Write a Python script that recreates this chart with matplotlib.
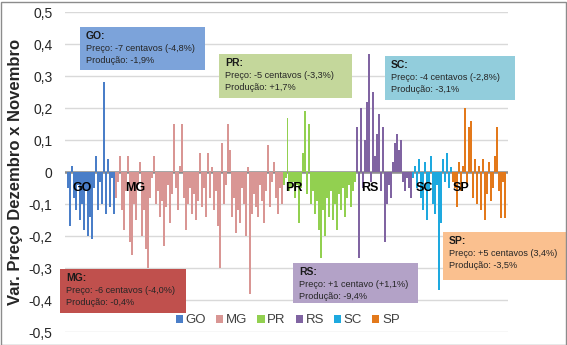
import matplotlib
matplotlib.use("Agg")
import matplotlib.pyplot as plt
from matplotlib.patches import Rectangle, Patch
import numpy as np

plt.rcParams['font.family'] = ['Liberation Sans', 'DejaVu Sans']

states = ["GO", "MG", "PR", "RS", "SC", "SP"]
colors = ["#4A7EC8", "#D99694", "#92D050", "#8064A2", "#1EA9DF", "#E3791B"]

go = [-0.05, -0.17, 0.02, -0.08, -0.12, -0.04, -0.15, -0.10, -0.18, -0.06, -0.20, -0.14,
      -0.21, -0.05, 0.05, -0.12, -0.03, -0.10, 0.28, -0.13, 0.04, -0.11, -0.02, -0.13]
mg = [-0.08, -0.03, 0.05, -0.12, -0.18, -0.06, 0.05, -0.22, -0.26, -0.10, -0.15, -0.04,
      0.03, -0.20, -0.12, -0.24, -0.30, -0.08, -0.02, 0.05, -0.10, -0.06, -0.14, -0.09,
      -0.23, -0.11, -0.04, -0.16, -0.07, 0.15, -0.05, -0.12, 0.02, 0.15, -0.08, -0.18,
      -0.10, -0.05, -0.13, -0.07, -0.15, -0.09, 0.06, -0.11, -0.05, -0.14, 0.06, -0.08,
      0.015, -0.12, -0.06, -0.17, -0.30, 0.09, -0.10, -0.04, 0.15, 0.07, -0.14, -0.08,
      -0.19, -0.12, -0.16, -0.05, -0.10, -0.20, 0.015, -0.38, -0.13, -0.07, -0.11, -0.14,
      -0.04, -0.09, -0.16, -0.06, 0.085, -0.11, -0.03, 0.03, -0.08, -0.13, -0.05, -0.10]
pr = [-0.04, -0.02, 0.17, -0.06, -0.05, -0.03, -0.08, -0.04, -0.16, -0.05, 0.06, 0.19,
      -0.07, 0.15, -0.10, -0.06, -0.13, -0.09, -0.18, -0.27, -0.12, -0.20, -0.08, -0.14,
      -0.06, -0.15, -0.10, -0.18, -0.07, -0.12, -0.05, -0.14, -0.08, -0.04, -0.11, -0.06,
      -0.03]
rs = [0.14, -0.27, 0.20, -0.05, 0.10, 0.22, 0.37, -0.03, 0.25, 0.05, 0.12, 0.18,
      -0.06, 0.14, -0.22, -0.10, -0.04, -0.08, 0.03, 0.09, 0.12, 0.07, 0.10, -0.03,
      -0.06, -0.02, -0.05, -0.08]
sc = [-0.02, 0.02, -0.05, 0.04, -0.08, -0.12, 0.03, -0.15, -0.06, 0.05, -0.10, -0.13,
      -0.04, -0.37, -0.16, 0.04, -0.03, 0.06, -0.05, 0.015]
sp = [-0.03, -0.05, -0.11, 0.03, -0.06, 0.02, 0.20, -0.04, 0.14, 0.16, -0.08, 0.04,
      -0.10, 0.02, -0.12, 0.04, -0.15, -0.07, 0.03, -0.09, -0.05, 0.05, 0.14, -0.06,
      -0.145, -0.03, -0.145]
series = [go, mg, pr, rs, sc, sp]

yticks = [0.5, 0.4, 0.3, 0.2, 0.1, 0, -0.1, -0.2, -0.3, -0.4, -0.5]
ytick_labels = ["0,5", "0,4", "0,3", "0,2", "0,1", "0", "-0,1", "-0,2", "-0,3", "-0,4", "-0,5"]

notes = {
    "GO": ["GO:", "Preço: -7 centavos (-4,8%)", "Produção: -1,9%"],
    "PR": ["PR:", "Preço: -5 centavos (-3,3%)", "Produção: +1,7%"],
    "SC": ["SC:", "Preço: -4 centavos (-2,8%)", "Produção: -3,1%"],
    "MG": ["MG:", "Preço: -6 centavos (-4,0%)", "Produção: -0,4%"],
    "RS": ["RS:", "Preço: +1 centavo (+1,1%)", "Produção: -9,4%"],
    "SP": ["SP:", "Preço: +5 centavos (3,4%)", "Produção: -3,5%"],
}

W, H = 567, 345
fig = plt.figure(figsize=(W / 100, H / 100), dpi=100)
ax = fig.add_axes([65 / W, 1 - 332 / H, (508 - 65) / W, 320 / H])

start = 0
for name, vals, col in zip(states, series, colors):
    x = np.arange(start, start + len(vals))
    ax.bar(x, vals, width=1.0, color=col, linewidth=0, zorder=2)
    start += len(vals)

ax.set_xlim(-1.5, start + 0.5)
ax.set_ylim(-0.5, 0.5)
ax.set_yticks(yticks)
ax.set_yticklabels(ytick_labels, fontsize=10, color="#262626")
ax.tick_params(axis="y", length=0, pad=9)
ax.set_xticks([])
for s in ax.spines.values():
    s.set_visible(False)
ax.grid(axis="y", color="#D9D9D9", linewidth=1.0, zorder=0)
ax.set_axisbelow(True)
ax.axhline(0, color="#8C8C8C", linewidth=1.8, zorder=1.5)

ax.set_ylabel("Var. Preço Dezembro x Novembro", fontsize=12, fontweight="bold",
              color="#262626", labelpad=4)

# region labels
label_x = [7.25, 33.75, 113.25, 151, 178.5, 196.75]
for name, lx in zip(states, label_x):
    ax.text(lx, -0.05, name, ha="center", va="center", fontsize=9,
            fontweight="bold", color="black", zorder=5)

# legend
handles = [Patch(facecolor=c, edgecolor="none", label=n) for n, c in zip(states, colors)]
ax.legend(handles=handles, loc="center", bbox_to_anchor=(0.503, 0.036), ncol=6,
          frameon=False, fontsize=9.5, handlelength=0.55, handleheight=0.55,
          handletextpad=0.2, columnspacing=0.75, labelcolor="#404040")

# annotation boxes (pixel geometry)
boxes = {
    "GO": (80, 27, 205, 70, "#7CA3DA"),
    "PR": (219, 54, 352, 98, "#C4D79B"),
    "SC": (385, 56, 515, 100, "#92CDDC"),
    "MG": (60, 269, 186, 313, "#C0504D"),
    "RS": (293, 263, 418, 303, "#B3A2C7"),
    "SP": (443, 232, 567, 280, "#FAC08F"),
}
for key, (x0, y0, x1, y1, fc) in boxes.items():
    fig.patches.append(Rectangle((x0 / W, 1 - y1 / H), (x1 - x0) / W, (y1 - y0) / H,
                                 transform=fig.transFigure, facecolor=fc,
                                 edgecolor="none", zorder=10))
    lines = notes[key]
    fig.text((x0 + 6) / W, 1 - (y0 + 12) / H, lines[0], fontsize=7.5,
             fontweight="bold", color="#1A1A1A", zorder=11, va="baseline")
    for i, t in enumerate(lines[1:]):
        fig.text((x0 + 6) / W, 1 - (y0 + 24 + 12 * i) / H, t, fontsize=6.6,
                 color="#262626", zorder=11, va="baseline")

# outer frame
fig.patches.append(Rectangle((0.5 / W, 0.5 / H), (W - 2) / W, (H - 2) / H,
                             transform=fig.transFigure, facecolor="none",
                             edgecolor="#8C8C8C", linewidth=1.0, zorder=20))

fig.savefig("out.png", dpi=100)
